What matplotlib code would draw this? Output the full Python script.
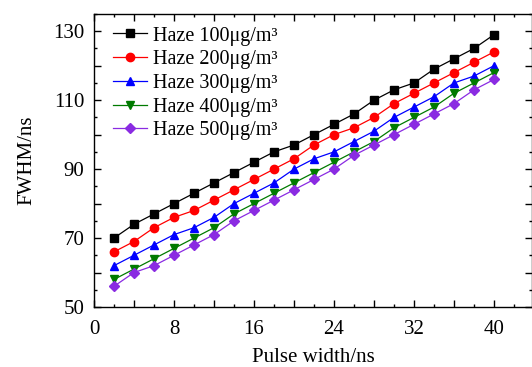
import numpy as np
import matplotlib
matplotlib.use("Agg")
import matplotlib.pyplot as plt
from matplotlib.ticker import MultipleLocator, FuncFormatter

# datos: FWHM frente a anchura de pulso ------------------------------------

pulse_width = [2, 4, 6, 8, 10, 12, 14, 16, 18, 20,
               22, 24, 26, 28, 30, 32, 34, 36, 38, 40]

fwhm_100 = [70, 74, 77, 80, 83, 86, 89, 92, 95, 97,
            100, 103, 106, 110, 113, 115, 119, 122, 125, 129]
fwhm_200 = [66, 69, 73, 76, 78, 81, 84, 87, 90, 93,
            97, 100, 102, 105, 109, 112, 115, 118, 121, 124]
fwhm_300 = [62, 65, 68, 71, 73, 76, 80, 83, 86, 90,
            93, 95, 98, 101, 105, 108, 111, 115, 117, 120]
fwhm_400 = [58, 61, 64, 67, 70, 73, 77, 80, 83, 86,
            89, 92, 95, 98, 102, 105, 108, 112, 115, 118]
fwhm_500 = [56, 60, 62, 65, 68, 71, 75, 78, 81, 84,
            87, 90, 94, 97, 100, 103, 106, 109, 113, 116]

labels = ["Haze 100μg/m³", "Haze 200μg/m³", "Haze 300μg/m³",
          "Haze 400μg/m³", "Haze 500μg/m³"]

# estilo -------------------------------------------------------------------

plt.rcParams["font.family"] = ["Liberation Serif", "DejaVu Serif"]

series = [
    (fwhm_100, "black", "s", 5.2),
    (fwhm_200, "#ff0000", "o", 6.0),
    (fwhm_300, "#0000ff", "^", 6.2),
    (fwhm_400, "#007a00", "v", 6.2),
    (fwhm_500, "#8a2be2", "D", 4.8),
]

fig = plt.figure(figsize=(5.32, 3.67), dpi=100)
ax = fig.add_axes([94 / 532, 60 / 367, 438 / 532, 293 / 367])

for (vals, col, mk, ms), lab in zip(series, labels):
    ax.plot(pulse_width, vals, color=col, marker=mk, markersize=ms,
            linewidth=0.9, label=lab)

ax.set_xlim(0, 43.8)
ax.set_ylim(50, 135)

ax.xaxis.set_major_locator(MultipleLocator(4))
ax.xaxis.set_minor_locator(MultipleLocator(2))
ax.yaxis.set_major_locator(MultipleLocator(10))
ax.yaxis.set_minor_locator(MultipleLocator(5))
ax.xaxis.set_major_formatter(FuncFormatter(lambda v, p: f"{v:.0f}" if round(v) % 8 == 0 else ""))
ax.yaxis.set_major_formatter(FuncFormatter(lambda v, p: f"{v:.0f}" if round(v) % 20 == 10 else ""))

ax.tick_params(which="both", direction="in", top=True, right=True,
               labelsize=15, width=1.0)
ax.tick_params(axis="x", pad=9)
ax.tick_params(axis="y", pad=7)
ax.tick_params(which="major", length=5)
ax.tick_params(which="minor", length=2.5)

for sp in ax.spines.values():
    sp.set_linewidth(1.0)

ax.set_xlabel("Pulse width/ns", fontsize=15, labelpad=7)
ax.set_ylabel("FWHM/ns", fontsize=15, labelpad=12)

ax.legend(loc="upper left", frameon=False, fontsize=14.5,
          handlelength=1.7, handletextpad=0.3, labelspacing=0.23,
          borderaxespad=0.0, bbox_to_anchor=(0.025, 0.985))

fig.savefig("out.png", dpi=100)
